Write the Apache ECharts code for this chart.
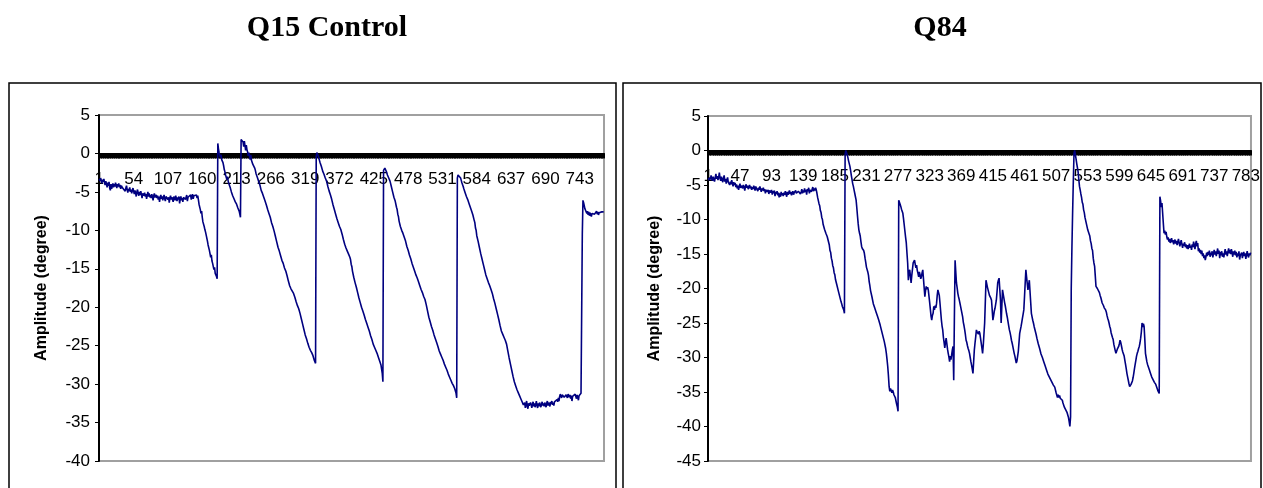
<!DOCTYPE html>
<html>
<head>
<meta charset="utf-8">
<script src="https://cdn.jsdelivr.net/npm/echarts@6/dist/echarts.min.js"></script>
<style>
html,body{margin:0;padding:0;background:#fff;}
#chart{width:1263px;height:488px;}
</style>
</head>
<body>
<div id="chart"></div>
<script>
// ---------- DATA ----------
const titles = ["Q15 Control", "Q84"];
const yAxisTitle = "Amplitude (degree)";

// Q15 Control: 780 samples
const q15Amplitude = [
// 1-153 baseline
-3.3,-3.6,-3.2,-3.5,-3.9,-3.4,-3.7,-3.3,-3.8,-4.1,
-3.6,-3.9,-4.4,-3.8,-4.2,-3.7,-4.5,-4.8,-4.0,-4.6,
-4.2,-3.9,-4.4,-4.0,-4.3,-3.8,-4.1,-4.5,-4.0,-4.3,
-3.9,-4.4,-4.1,-4.6,-4.2,-4.0,-4.5,-4.3,-4.7,-4.4,
-4.9,-4.5,-4.2,-4.7,-5.1,-4.6,-4.9,-4.4,-5.0,-4.7,
-5.2,-4.8,-4.5,-4.9,-5.3,-4.8,-5.1,-5.6,-5.0,-4.7,
-5.2,-5.5,-5.0,-5.4,-4.9,-5.3,-5.8,-5.2,-5.0,-5.5,
-5.1,-5.6,-5.3,-5.9,-5.4,-5.0,-5.6,-5.2,-5.7,-5.4,
-5.8,-5.3,-5.6,-6.1,-5.5,-5.2,-5.7,-5.9,-5.4,-5.8,
-5.5,-6.0,-5.6,-6.3,-5.7,-5.4,-5.9,-5.6,-6.1,-5.7,
-5.4,-5.9,-6.2,-5.6,-5.8,-5.5,-6.0,-5.7,-6.4,-5.8,
-5.5,-6.0,-5.7,-5.9,-6.3,-5.6,-5.8,-6.1,-5.5,-5.9,
-6.2,-5.7,-6.0,-5.6,-6.5,-5.9,-5.6,-6.1,-5.8,-6.3,
-5.7,-5.9,-5.5,-6.0,-5.8,-5.4,-6.2,-5.7,-5.9,-5.5,
-5.8,-5.4,-6.0,-5.6,-5.3,-5.9,-5.5,-5.7,-5.3,-5.6,
-5.4,-5.8,-5.5,
// 154-183 first decline
-6.0,-6.6,-6.4,-7.3,-7.8,-7.5,-8.3,-8.9,-8.7,-9.5,
-9.9,-10.2,-10.6,-10.5,-11.4,-11.9,-12.1,-12.6,-12.4,-13.5,
-13.2,-14.0,-14.3,-14.1,-15.1,-14.8,-15.6,-15.4,-16.0,-16.3,
// 184-219
1.3,0.6,0.1,-0.2,-0.5,-0.2,-0.8,-0.7,-1.2,-1.6,
-2.1,-2.4,-2.8,-3.0,-3.4,-3.0,-3.6,-3.9,-3.8,-4.4,
-4.6,-5.0,-5.1,-5.5,-5.6,-5.9,-6.0,-6.3,-6.2,-6.6,
-6.8,-7.1,-7.3,-7.5,-7.9,-8.3,
// 220-335
1.8,2.0,1.9,1.5,0.9,1.6,1.0,0.4,1.1,0.5,
0.2,-0.3,0.1,-0.4,-0.8,-0.2,-0.9,-1.1,-1.4,-1.2,
-1.5,-1.9,-2.2,-2.6,-2.8,-3.1,-3.2,-3.6,-3.7,-4.1,
-4.3,-4.8,-4.6,-5.2,-5.1,-5.7,-5.6,-6.2,-6.1,-6.7,
-6.8,-7.3,-7.2,-7.8,-7.9,-8.3,-8.4,-9.0,-9.1,-9.5,
-9.6,-10.1,-10.3,-10.8,-10.9,-11.5,-11.6,-12.2,-12.3,-12.7,
-12.8,-13.3,-13.2,-13.9,-14.0,-14.3,-14.4,-14.9,-14.8,-15.3,
-15.4,-15.9,-16.1,-16.6,-16.8,-17.2,-17.1,-17.6,-17.5,-17.9,
-17.8,-18.2,-18.1,-18.7,-18.8,-19.3,-19.3,-19.8,-19.8,-20.2,
-20.3,-20.8,-20.9,-21.5,-21.6,-22.2,-22.3,-22.9,-23.0,-23.6,
-23.7,-24.1,-24.2,-24.7,-24.7,-25.2,-25.2,-25.6,-25.5,-25.9,
-26.0,-26.3,-26.4,-26.9,-26.9,-27.3,
// 336-439
-0.4,0.1,0.0,-0.3,-0.6,-0.9,-1.2,-1.4,-1.7,-1.9,
-2.3,-2.3,-2.7,-2.8,-3.2,-3.2,-3.6,-3.8,-4.3,-4.4,
-4.9,-5.0,-5.4,-5.5,-6.0,-6.2,-6.7,-6.8,-7.3,-7.4,
-7.9,-8.1,-8.5,-8.6,-9.0,-9.0,-9.5,-9.5,-9.9,-9.9,
-10.5,-10.6,-11.2,-11.3,-11.8,-11.8,-12.3,-12.3,-12.7,-12.7,
-13.1,-13.1,-13.5,-13.8,-14.4,-14.7,-15.3,-15.5,-16.1,-16.2,
-16.8,-16.9,-17.4,-17.6,-18.1,-18.3,-18.8,-18.9,-19.4,-19.5,
-20.0,-20.0,-20.5,-20.6,-21.0,-21.1,-21.6,-21.6,-22.1,-22.1,
-22.6,-22.7,-23.1,-23.2,-23.7,-23.7,-24.2,-24.3,-24.8,-24.8,
-25.2,-25.2,-25.6,-25.6,-26.0,-26.0,-26.5,-26.5,-27.0,-27.1,
-27.5,-27.6,-28.6,-29.7,
// 440-553
-2.2,-2.0,-1.9,-1.8,-2.1,-2.5,-2.8,-3.0,-3.2,-3.4,
-3.6,-3.8,-4.3,-4.5,-5.0,-5.2,-5.7,-5.8,-6.2,-6.4,
-7.0,-7.3,-7.9,-8.2,-8.8,-9.0,-9.5,-9.5,-10.0,-10.0,
-10.4,-10.4,-10.9,-10.9,-11.4,-11.6,-12.1,-12.2,-12.6,-12.7,
-13.2,-13.3,-13.7,-13.8,-14.3,-14.3,-14.8,-14.9,-15.3,-15.4,
-15.8,-15.8,-16.2,-16.2,-16.7,-16.8,-17.2,-17.3,-17.7,-17.7,
-18.1,-18.2,-18.6,-18.6,-19.0,-19.0,-19.7,-19.9,-20.5,-20.7,
-21.3,-21.4,-21.9,-22.0,-22.5,-22.6,-23.0,-23.1,-23.6,-23.6,
-24.1,-24.2,-24.6,-24.7,-25.1,-25.2,-25.7,-25.7,-26.1,-26.1,
-26.5,-26.5,-26.9,-27.0,-27.4,-27.4,-27.8,-27.8,-28.2,-28.3,
-28.7,-28.7,-29.1,-29.1,-29.5,-29.5,-29.9,-29.9,-30.2,-30.2,
-30.6,-30.7,-31.2,-31.8,
// 554-656
-3.2,-2.8,-2.6,-2.7,-2.9,-3.2,-3.5,-3.8,-4.0,-4.3,
-4.6,-4.6,-5.1,-5.1,-5.6,-5.6,-6.0,-6.0,-6.5,-6.5,
-7.0,-7.0,-7.5,-7.5,-8.0,-8.1,-8.7,-9.0,-9.7,-10.0,
-10.7,-10.9,-11.4,-11.6,-12.2,-12.4,-13.0,-13.2,-13.7,-13.9,
-14.4,-14.6,-15.1,-15.3,-15.8,-15.9,-16.3,-16.4,-16.8,-16.8,
-17.2,-17.3,-17.7,-17.7,-18.2,-18.3,-18.9,-19.0,-19.5,-19.7,
-20.2,-20.3,-20.9,-21.1,-21.6,-21.8,-22.4,-22.5,-23.1,-23.1,
-23.5,-23.5,-23.9,-23.9,-24.3,-24.3,-24.8,-25.0,-25.7,-25.9,
-26.6,-26.8,-27.4,-27.6,-28.2,-28.4,-29.0,-29.1,-29.7,-29.8,
-30.2,-30.3,-30.7,-30.7,-31.1,-31.1,-31.5,-31.5,-31.9,-31.9,
-32.3,-32.4,-32.7,
// 657-746 plateau
-32.9,-32.4,-33.1,-32.6,-32.2,-32.9,-33.2,-32.5,-32.8,-33.0,
-32.4,-32.7,-33.1,-32.6,-32.3,-32.9,-32.5,-33.0,-32.7,-32.2,
-32.8,-33.1,-32.5,-32.9,-32.4,-32.7,-33.0,-32.6,-32.3,-32.8,
-32.5,-32.9,-32.4,-32.7,-33.0,-32.5,-32.2,-32.8,-32.4,-32.6,
-32.9,-32.3,-32.6,-32.2,-32.7,-32.4,-32.8,-32.3,-32.5,-32.1,
-32.4,-32.0,-32.3,-31.8,-32.2,-31.6,-31.3,-31.5,-31.8,-31.4,
-31.6,-31.3,-31.7,-31.5,-31.9,-31.4,-31.6,-31.8,-31.3,-31.5,
-31.7,-31.4,-31.9,-31.5,-32.2,-31.6,-31.4,-31.8,-31.5,-31.3,
-31.6,-31.9,-31.4,-31.7,-32.1,-31.5,-31.3,-31.6,-31.2,-31.0,
// 747-780
-10.5,-6.1,-6.4,-6.8,-7.2,-7.0,-7.4,-7.8,-7.5,-8.0,
-7.6,-8.1,-7.7,-7.9,-8.2,-7.8,-7.6,-8.0,-7.7,-7.9,
-8.1,-7.7,-7.5,-7.9,-7.6,-8.0,-7.7,-7.8,-7.5,-7.9,
-7.6,-7.8,-7.5,-7.6
];

// Q84: 790 samples
const q84Amplitude = [
// 1-158 baseline
-4.0,-4.3,-3.9,-4.2,-3.6,-4.1,-4.4,-3.8,-4.2,-4.5,
-3.9,-3.4,-4.1,-3.7,-4.3,-3.9,-3.2,-4.0,-4.4,-3.8,
-4.2,-4.6,-4.0,-3.6,-4.5,-4.1,-4.8,-4.3,-3.9,-4.6,
-4.4,-5.0,-4.5,-4.9,-4.3,-4.8,-5.2,-4.6,-5.0,-4.7,
-5.3,-4.9,-5.5,-5.1,-5.7,-5.2,-4.8,-5.4,-5.6,-5.1,
-5.5,-5.0,-5.3,-5.8,-5.2,-4.9,-5.4,-5.1,-5.6,-5.3,
-5.0,-5.5,-5.2,-5.7,-5.3,-5.6,-5.1,-5.4,-5.8,-5.2,
-5.5,-5.3,-5.9,-5.4,-5.7,-5.2,-5.6,-6.0,-5.5,-5.8,
-5.4,-5.9,-5.6,-6.2,-5.7,-5.5,-6.0,-5.7,-6.3,-5.8,
-5.6,-6.1,-5.7,-6.4,-5.9,-6.2,-5.8,-6.6,-6.0,-6.3,
-5.9,-6.5,-6.1,-6.8,-6.2,-6.7,-6.0,-6.5,-6.2,-6.6,
-6.1,-6.4,-5.9,-6.3,-6.7,-6.0,-6.4,-6.1,-5.8,-6.3,
-6.0,-6.5,-6.2,-5.9,-6.4,-6.1,-6.3,-5.8,-6.2,-6.0,
-6.4,-5.9,-6.1,-5.7,-6.3,-6.0,-5.6,-6.2,-5.8,-6.1,
-5.5,-6.0,-5.7,-6.4,-5.6,-5.9,-5.4,-6.2,-5.7,-5.5,
-6.0,-5.6,-5.3,-5.9,-5.5,-5.8,-5.4,-5.7,
// 159-199
-6.2,-6.8,-7.0,-7.7,-8.0,-8.7,-9.0,-9.7,-10.0,-10.7,
-10.8,-11.4,-11.5,-12.0,-12.1,-12.5,-12.6,-13.3,-13.7,-14.5,
-14.8,-15.6,-16.0,-16.7,-17.0,-17.7,-18.0,-18.7,-18.9,-19.5,
-19.7,-20.3,-20.5,-21.1,-21.3,-21.9,-22.2,-22.6,-22.6,-23.1,-23.6,
// 200-277
-0.6,0.0,-0.2,-0.6,-1.0,-1.5,-1.9,-2.3,-2.9,-3.6,
-4.2,-4.8,-5.2,-5.7,-6.2,-6.7,-7.2,-8.3,-9.5,-10.6,
-11.5,-12.0,-12.4,-13.2,-13.9,-14.2,-14.0,-14.5,-14.9,-15.6,
-16.2,-16.9,-17.0,-17.6,-18.1,-19.0,-19.6,-20.3,-20.5,-21.2,
-21.4,-22.2,-22.3,-22.8,-22.9,-23.4,-23.5,-24.0,-24.0,-24.6,
-24.8,-25.3,-25.5,-26.1,-26.3,-26.9,-27.1,-27.7,-27.8,-28.7,
-29.4,-30.3,-31.3,-32.6,-34.2,-34.9,-34.5,-34.8,-35.1,-34.7,
-35.0,-35.4,-35.2,-35.8,-36.3,-36.8,-37.2,-37.8,
// 278-528
-7.2,-7.4,-7.8,-8.1,-8.5,-8.8,-9.1,-9.9,-10.8,-11.7,
-12.6,-13.4,-14.9,-16.3,-18.8,-17.6,-17.3,-18.2,-19.2,-18.1,
-17.2,-16.3,-16.1,-15.9,-16.5,-17.0,-16.6,-17.4,-17.8,-18.3,
-17.6,-18.0,-18.6,-18.3,-17.7,-17.3,-18.6,-19.9,-21.2,-20.3,
-19.7,-20.1,-19.8,-20.2,-21.1,-22.0,-23.0,-24.0,-24.6,-23.9,
-23.6,-22.6,-23.1,-22.5,-22.8,-22.2,-21.0,-20.2,-20.4,-21.0,
-22.1,-23.3,-24.5,-25.4,-26.0,-27.1,-27.8,-28.6,-27.8,-27.2,
-28.0,-28.8,-29.4,-29.9,-30.6,-29.8,-30.3,-29.6,-28.9,-28.4,
-33.3,-24.0,-15.9,-17.6,-19.2,-19.9,-20.7,-21.2,-21.6,-22.1,
-22.6,-23.1,-23.6,-24.1,-24.9,-25.4,-26.0,-26.7,-27.5,-27.8,
-28.3,-28.7,-29.0,-29.4,-30.0,-30.6,-31.1,-31.7,-32.3,-30.6,
-28.9,-27.9,-27.0,-26.0,-26.3,-26.1,-26.6,-26.2,-26.5,-27.2,
-27.9,-28.6,-29.4,-28.2,-26.6,-25.0,-21.9,-18.8,-19.3,-19.8,
-20.2,-20.6,-21.0,-20.9,-21.4,-21.7,-23.1,-24.6,-24.0,-23.3,
-22.9,-22.3,-21.7,-20.5,-19.2,-18.8,-18.5,-18.3,-21.6,-25.0,
-22.6,-20.2,-20.8,-21.4,-22.0,-22.5,-23.1,-23.7,-24.2,-24.8,
-25.4,-26.0,-26.4,-26.9,-27.5,-27.9,-28.4,-28.9,-29.4,-29.8,
-30.3,-30.8,-30.5,-30.4,-29.1,-27.8,-26.5,-26.0,-25.5,-24.9,
-24.3,-23.7,-23.1,-21.2,-19.2,-17.3,-18.3,-19.3,-20.2,-19.5,
-18.8,-20.4,-22.0,-23.6,-24.1,-24.6,-25.0,-25.5,-25.9,-26.3,
-26.7,-27.2,-27.4,-28.0,-28.2,-28.7,-28.9,-29.5,-29.6,-30.0,
-30.1,-30.6,-30.7,-31.2,-31.3,-31.8,-31.9,-32.4,-32.4,-32.8,
-32.8,-33.2,-33.2,-33.6,-33.6,-34.0,-33.9,-34.3,-34.5,-35.1,
-35.2,-35.8,-35.4,-35.8,-35.5,-35.9,-35.7,-36.1,-36.2,-36.6,
-36.7,-37.2,-37.2,-37.6,-37.6,-38.0,-38.0,-38.7,-39.3,-40.0,
-38.6,
// 529-657
-20.0,-14.0,-9.0,-4.5,-0.5,0.0,
-0.6,-1.2,-1.9,-2.5,-3.1,-4.2,-5.2,-5.7,-6.3,-6.8,
-7.5,-7.8,-8.6,-9.0,-9.7,-9.9,-10.6,-10.8,-11.5,-11.6,
-12.1,-12.4,-13.1,-13.5,-14.2,-14.5,-15.6,-16.3,-16.8,-18.2,
-19.7,-19.6,-20.0,-19.9,-20.2,-20.6,-21.0,-21.3,-21.7,-22.1,
-22.3,-22.5,-22.8,-22.9,-23.1,-23.4,-23.9,-24.3,-24.6,-25.0,
-25.5,-25.8,-26.4,-26.5,-27.1,-27.4,-28.1,-28.3,-29.0,-29.4,
-29.1,-28.8,-28.6,-28.4,-28.0,-27.5,-27.8,-28.3,-28.8,-29.2,
-29.4,-29.8,-30.4,-31.0,-31.6,-32.3,-32.8,-33.3,-33.8,-34.2,
-34.0,-33.9,-33.7,-33.4,-32.9,-32.3,-31.6,-31.0,-30.4,-29.8,
-29.4,-29.1,-28.7,-28.4,-27.9,-27.2,-26.3,-25.0,-25.6,-25.1,
-25.5,-27.3,-29.4,-30.0,-30.6,-31.0,-31.3,-31.6,-31.9,-32.2,
-32.5,-32.8,-33.0,-33.2,-33.4,-33.6,-33.7,-33.9,-34.2,-34.5,
-34.8,-34.6,-35.2,
// 658-790
-6.7,-7.3,-8.2,-7.6,-9.1,-10.6,-12.0,-11.6,-12.2,-11.8,
-12.5,-12.9,-12.6,-13.2,-12.8,-13.4,-13.1,-12.7,-13.3,-13.0,
-13.6,-13.2,-12.9,-13.5,-13.1,-13.7,-13.3,-12.8,-13.4,-13.9,
-13.4,-13.0,-13.6,-14.1,-13.5,-13.8,-13.3,-14.0,-13.6,-14.2,
-13.7,-14.3,-13.9,-13.5,-14.1,-13.8,-14.4,-13.6,-14.0,-13.2,
-13.8,-14.3,-13.5,-13.1,-13.9,-13.4,-14.6,-14.2,-14.8,-14.4,
-15.0,-14.5,-15.3,-14.9,-15.6,-15.2,-15.9,-15.4,-14.8,-15.3,
-14.7,-15.1,-14.5,-15.4,-14.8,-15.2,-14.6,-15.5,-14.9,-14.4,
-15.1,-14.6,-15.3,-14.8,-14.2,-15.0,-14.5,-15.6,-14.7,-15.2,
-14.6,-15.4,-14.9,-15.5,-14.8,-14.3,-15.1,-14.6,-15.3,-14.7,
-14.2,-14.9,-14.4,-15.0,-14.3,-14.8,-15.4,-14.6,-15.1,-14.5,
-15.2,-14.7,-15.5,-14.9,-15.3,-14.6,-15.8,-15.2,-15.4,-14.8,
-15.6,-15.0,-14.7,-15.3,-14.9,-15.7,-15.1,-14.6,-15.2,-15.5,
-14.9,-15.2,-14.8
];

// Category labels are the sample numbers 1..N
const q15Categories = q15Amplitude.map((_, i) => String(i + 1));
const q84Categories = q84Amplitude.map((_, i) => String(i + 1));

const q15YAxis = { min: -40, max: 5, interval: 5 };
const q84YAxis = { min: -45, max: 5, interval: 5 };
const q15LabelEvery = 53;   // labels 1, 54, 107, ...
const q84LabelEvery = 46;   // labels 1, 47, 93, ...

// ---------- CHART ----------
const chart = echarts.init(document.getElementById('chart'), null, { renderer: 'canvas' });

const lineColor = '#000080';
const tickFont = { fontFamily: 'Liberation Sans', fontSize: 17, color: '#000' };

const grids = [
  { left: 99, top: 115, width: 505, height: 346 },
  { left: 708, top: 116, width: 543, height: 345 }
];

// the category axis crosses the value axis at 0: shift it up from the grid bottom
function zeroOffset(grid, cfg) {
  return -grid.height * (0 - cfg.min) / (cfg.max - cfg.min);
}

function makeXAxis(gridIndex, cats, every, cfg) {
  return {
    type: 'category', gridIndex: gridIndex, data: cats, boundaryGap: true,
    position: 'bottom', offset: zeroOffset(grids[gridIndex], cfg),
    axisLine: { onZero: false, lineStyle: { color: '#000', width: 2 } },
    axisTick: { show: true, interval: 0, length: 5, lineStyle: { color: '#000', width: 1 } },
    axisLabel: Object.assign({ interval: every - 1, margin: 17 }, tickFont),
    splitLine: { show: false }
  };
}
function makeYAxis(gridIndex, cfg, gap, margin) {
  return {
    type: 'value', gridIndex: gridIndex, min: cfg.min, max: cfg.max, interval: cfg.interval,
    name: yAxisTitle, nameLocation: 'middle', nameGap: gap,
    nameTextStyle: { fontFamily: 'Liberation Sans', fontWeight: 'bold', fontSize: 16, color: '#000' },
    axisLine: { show: true, lineStyle: { color: '#000', width: 2 } },
    axisTick: { show: true, length: 4, lineStyle: { color: '#000', width: 1 } },
    axisLabel: Object.assign({ margin: margin }, tickFont),
    splitLine: { show: false }
  };
}

chart.setOption({
  animation: false,
  backgroundColor: '#fff',
  title: [
    { text: titles[0], left: 322, top: 8, textAlign: 'center',
      textStyle: { fontFamily: 'Liberation Serif', fontWeight: 'bold', fontSize: 30, color: '#000' } },
    { text: titles[1], left: 935, top: 8, textAlign: 'center',
      textStyle: { fontFamily: 'Liberation Serif', fontWeight: 'bold', fontSize: 30, color: '#000' } }
  ],
  graphic: [
    { type: 'rect', shape: { x: 9, y: 83, width: 607, height: 440 }, style: { fill: 'none', stroke: '#000', lineWidth: 1.5 }, z: -1 },
    { type: 'rect', shape: { x: 623, y: 83, width: 638, height: 440 }, style: { fill: 'none', stroke: '#000', lineWidth: 1.5 }, z: -1 }
  ],
  grid: grids.map(g => Object.assign({ show: true, borderColor: '#a0a0a0', borderWidth: 2, backgroundColor: '#fff' }, g)),
  xAxis: [
    makeXAxis(0, q15Categories, q15LabelEvery, q15YAxis),
    makeXAxis(1, q84Categories, q84LabelEvery, q84YAxis)
  ],
  yAxis: [
    makeYAxis(0, q15YAxis, 49, 9),
    makeYAxis(1, q84YAxis, 45, 7)
  ],
  series: [
    { type: 'line', xAxisIndex: 0, yAxisIndex: 0, data: q15Amplitude, showSymbol: false, symbol: 'none',
      lineStyle: { color: lineColor, width: 1.6 }, z: 5 },
    { type: 'line', xAxisIndex: 1, yAxisIndex: 1, data: q84Amplitude, showSymbol: false, symbol: 'none',
      lineStyle: { color: lineColor, width: 1.6 }, z: 5 }
  ]
});
</script>
</body>
</html>
